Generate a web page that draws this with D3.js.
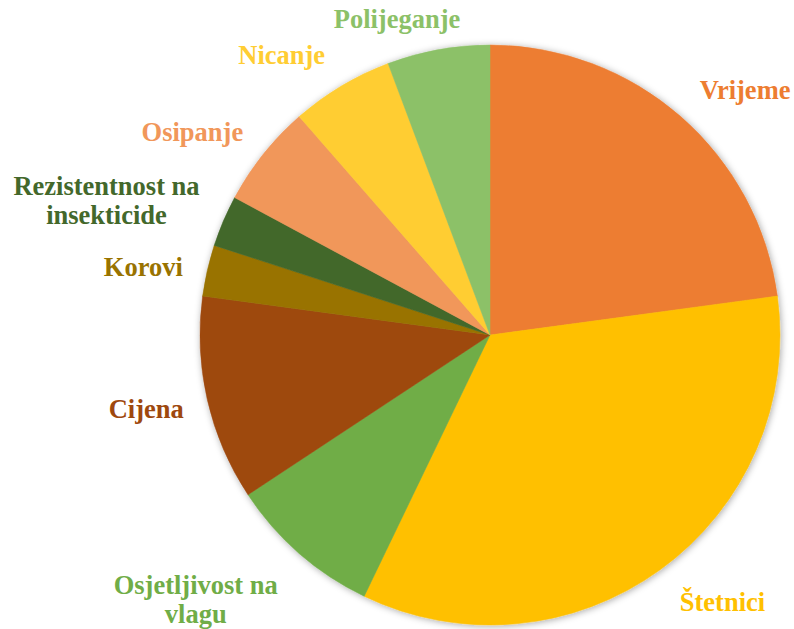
<!DOCTYPE html>
<html>
<head>
<meta charset="utf-8">
<script src="https://cdn.jsdelivr.net/npm/d3@7"></script>
<style>
  body { margin: 0; background: #fff; }
</style>
</head>
<body>
<svg width="794" height="629"></svg>
<script>
// chart data
var categories = ["Vrijeme", "Štetnici", "Osjetljivost na vlagu", "Cijena", "Korovi",
  "Rezistentnost na insekticide", "Osipanje", "Nicanje", "Polijeganje"];
var values = [8, 12, 3, 4, 1, 1, 2, 2, 2];
var colors = ["#ED7D31", "#FFC000", "#70AD47", "#9E480E", "#997300",
  "#43682B", "#F1975A", "#FFCD33", "#8CC168"];
// label lines (Excel wraps the long ones)
var labelLines = [["Vrijeme"], ["Štetnici"], ["Osjetljivost na", "vlagu"], ["Cijena"], ["Korovi"],
  ["Rezistentnost na", "insekticide"], ["Osipanje"], ["Nicanje"], ["Polijeganje"]];

var cx = 490, cy = 335, r = 290;
var fontSize = 26.5, lineH = 29, gap = 22;
var fontFamily = "'Liberation Serif'";
// small hand nudges so labels sit where Excel put them
var nudge = {
  "Vrijeme": [20, 1], "Štetnici": [24, 3], "Osjetljivost na vlagu": [-35, 8],
  "Cijena": [-3, 2], "Korovi": [-4, 5], "Rezistentnost na insekticide": [-11, 0],
  "Osipanje": [-14, 1], "Nicanje": [-26, 1], "Polijeganje": [-26, 5]
};

var data = categories.map(function (c, i) { return {name: c, value: values[i], color: colors[i], lines: labelLines[i]}; });

var svg = d3.select("svg");
var defs = svg.append("defs");
var f = defs.append("filter").attr("id", "shadow").attr("x", "-10%").attr("y", "-10%").attr("width", "120%").attr("height", "120%");
f.append("feDropShadow").attr("dx", 1).attr("dy", 1).attr("stdDeviation", 3.5)
  .attr("flood-color", "#000").attr("flood-opacity", 0.35);

var pie = d3.pie().sort(null).value(function (d) { return d.value; });
var arc = d3.arc().innerRadius(0).outerRadius(r);
var arcs = pie(data);

var g = svg.append("g").attr("transform", "translate(" + cx + "," + cy + ")");
g.append("g").attr("filter", "url(#shadow)")
  .selectAll("path")
  .data(arcs)
  .enter().append("path")
  .attr("d", arc)
  .attr("fill", function (d) { return d.data.color; })
  .attr("stroke", function (d) { return d.data.color; })
  .attr("stroke-width", 0.5);

// labels: box pushed outward from the slice's mid-angle
var measure = svg.append("text").attr("font-size", fontSize)
  .attr("font-family", fontFamily).attr("font-weight", "bold").attr("visibility", "hidden");
arcs.forEach(function (d) {
  var a = (d.startAngle + d.endAngle) / 2;
  var ux = Math.sin(a), uy = -Math.cos(a);
  var w = d3.max(d.data.lines, function (t) { measure.text(t); return measure.node().getComputedTextLength(); });
  var h = d.data.lines.length * lineH;
  var n = nudge[d.data.name] || [0, 0];
  var x = (r + gap) * ux + ux * w / 2 + n[0];
  var y = (r + gap) * uy + uy * h / 2 + n[1];
  var t = g.append("text")
    .attr("text-anchor", "middle")
    .attr("font-family", fontFamily)
    .attr("font-weight", "bold")
    .attr("font-size", fontSize)
    .attr("fill", d.data.color);
  d.data.lines.forEach(function (line, i) {
    t.append("tspan")
      .attr("x", x)
      .attr("y", y - h / 2 + lineH * i + lineH / 2 + fontSize * 0.33)
      .text(line);
  });
});
measure.remove();
</script>
</body>
</html>
